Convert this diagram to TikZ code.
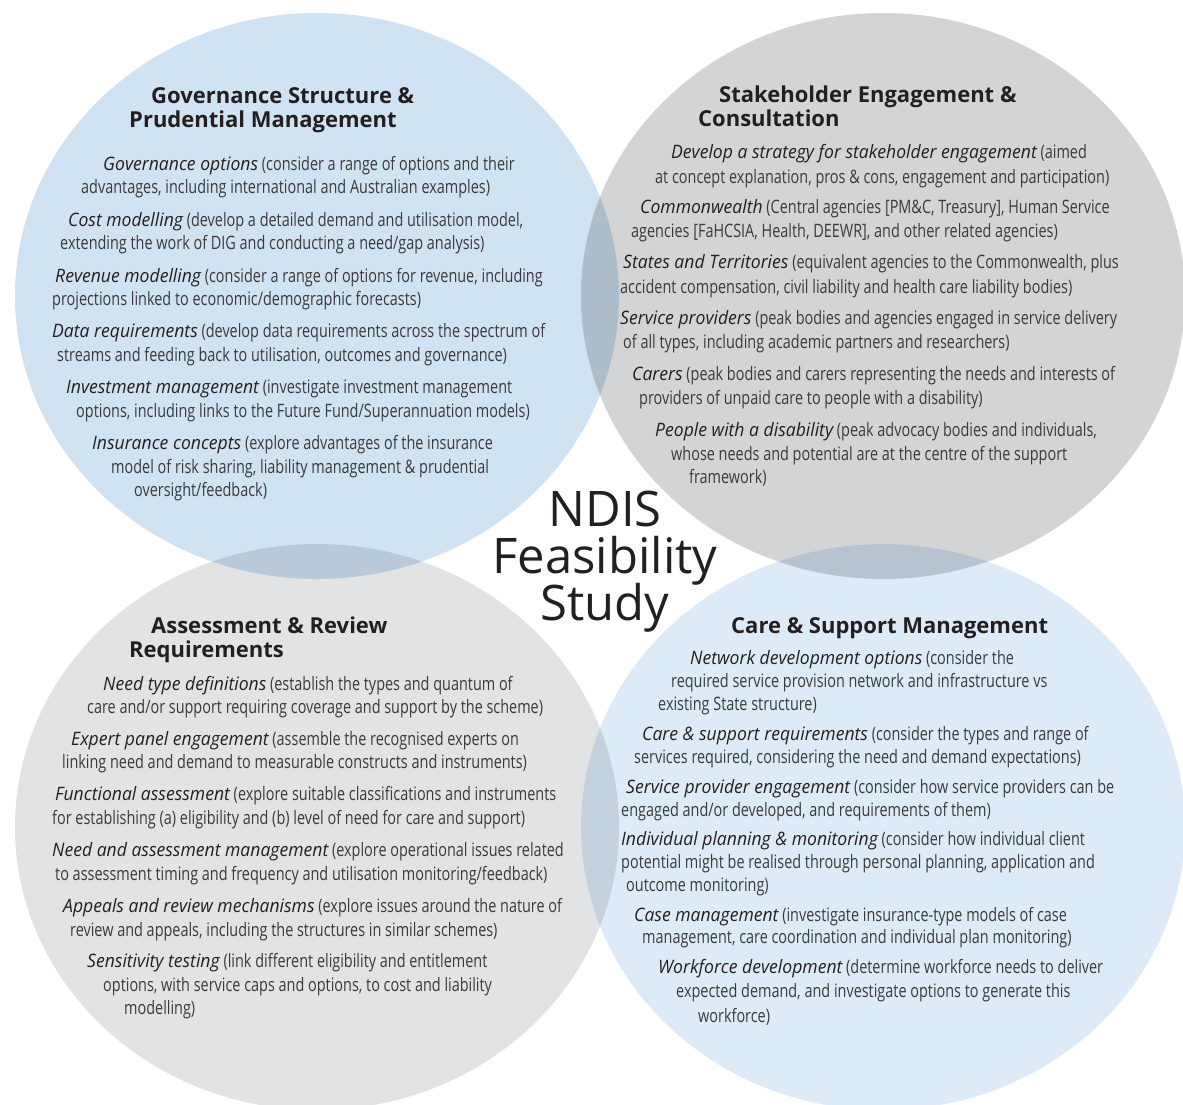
\documentclass[tikz,border=0pt]{standalone}
\usepackage{fontspec}
\usepackage{xcolor}
\usepackage{tikz}
\setmainfont{Open Sans}
\newfontfamily\bodyfont[FakeStretch=0.78]{Open Sans}
\newfontfamily\termfont[FakeStretch=0.95]{Open Sans}
\newfontfamily\headfont{Open Sans}
\definecolor{cInk}{HTML}{231F20}
\definecolor{cText}{HTML}{3A3A3C}
\definecolor{cBlueA}{HTML}{D0E3F3}
\definecolor{cGrayA}{HTML}{D3D4D6}
\definecolor{cGrayB}{HTML}{E2E3E5}
\definecolor{cBlueB}{HTML}{DDEBF8}
% overlaps, multiplied by hand
\definecolor{cLensTop}{HTML}{ACBDCC}
\definecolor{cLensLeft}{HTML}{B8CADA}
\definecolor{cLensRight}{HTML}{B7C3D0}
\definecolor{cLensBot}{HTML}{C4D1DF}
\tikzset{
  blob/.style={x radius=302pt,y radius=283pt},
  txt/.style={anchor=base west,inner sep=0pt,text=cText,font=\bodyfont\fontsize{18.5}{22}\selectfont},
  hd/.style={anchor=base west,inner sep=0pt,text=cInk,font=\headfont\bfseries\fontsize{22}{24}\selectfont},
  ttl/.style={anchor=base,inner sep=0pt,text=cInk,font=\fontsize{49}{47}\selectfont},
}
\newcommand{\trm}[1]{{\termfont\itshape\color{cInk}#1}}

\begin{document}
\begin{tikzpicture}[x=1pt,y=-1pt]
  \useasboundingbox (0,0) rectangle (1183,1104);
  \fill[white] (0,0) rectangle (1183,1104);
  \clip (0,0) rectangle (1183,1104);

  \coordinate (gov) at (317,296);
  \coordinate (stk) at (883,296);
  \coordinate (asr) at (317,827);
  \coordinate (csm) at (883,827);

  \fill[cBlueA] (gov) ellipse [blob];
  \fill[cGrayA] (stk) ellipse [blob];
  \fill[cGrayB] (asr) ellipse [blob];
  \fill[cBlueB] (csm) ellipse [blob];
  \begin{scope}
    \clip (gov) ellipse [blob];
    \fill[cLensTop] (stk) ellipse [blob];
    \fill[cLensLeft] (asr) ellipse [blob];
  \end{scope}
  \begin{scope}
    \clip (csm) ellipse [blob];
    \fill[cLensRight] (stk) ellipse [blob];
    \fill[cLensBot] (asr) ellipse [blob];
  \end{scope}

  % centre title
  \node[ttl] (t1) at (605,526) {NDIS};
  \node[ttl] (t2) at (605,573) {Feasibility};
  \node[ttl] (t3) at (605,620) {Study};

  % governance
  \node[hd] (govh1) at (151,103) {Governance Structure \&};
  \node[hd] (govh2) at (129,127) {Prudential Management};
  \node[txt] (gov1) at (103,170) {\trm{Governance options} (consider a range of options and their};
  \node[txt] (gov2) at (81,193) {advantages, including international and Australian examples)};
  \node[txt] (gov3) at (68,226) {\trm{Cost modelling} (develop a detailed demand and utilisation model,};
  \node[txt] (gov4) at (60,249) {extending the work of DIG and conducting a need/gap analysis)};
  \node[txt] (gov5) at (55,282) {\trm{Revenue modelling} (consider a range of options for revenue, including};
  \node[txt] (gov6) at (52,305) {projections linked to economic/demographic forecasts)};
  \node[txt] (gov7) at (52,337) {\trm{Data requirements} (develop data requirements across the spectrum of};
  \node[txt] (gov8) at (57,361) {streams and feeding back to utilisation, outcomes and governance)};
  \node[txt] (gov9) at (66,393) {\trm{Investment management} (investigate investment management};
  \node[txt] (gov10) at (76,417) {options, including links to the Future Fund/Superannuation models)};
  \node[txt] (gov11) at (92,449) {\trm{Insurance concepts} (explore advantages of the insurance};
  \node[txt] (gov12) at (111,473) {model of risk sharing, liability management \& prudential};
  \node[txt] (gov13) at (134,496) {oversight/feedback)};

  % stakeholders
  \node[hd] (stkh1) at (719,102) {Stakeholder Engagement \&};
  \node[hd] (stkh2) at (698,126) {Consultation};
  \node[txt] (stk1) at (671,158) {\trm{Develop a strategy for stakeholder engagement} (aimed};
  \node[txt] (stk2) at (655,183) {at concept explanation, pros \& cons, engagement and participation)};
  \node[txt] (stk3) at (640,213) {\trm{Commonwealth} (Central agencies [PM\&C, Treasury], Human Service};
  \node[txt] (stk4) at (631,237) {agencies [FaHCSIA, Health, DEEWR], and other related agencies)};
  \node[txt] (stk5) at (623,268) {\trm{States and Territories} (equivalent agencies to the Commonwealth, plus};
  \node[txt] (stk6) at (620,293) {accident compensation, civil liability and health care liability bodies)};
  \node[txt] (stk7) at (620,324) {\trm{Service providers} (peak bodies and agencies engaged in service delivery};
  \node[txt] (stk8) at (623,348) {of all types, including academic partners and researchers)};
  \node[txt] (stk9) at (632,380) {\trm{Carers} (peak bodies and carers representing the needs and interests of};
  \node[txt] (stk10) at (639,404) {providers of unpaid care to people with a disability)};
  \node[txt] (stk11) at (655,436) {\trm{People with a disability} (peak advocacy bodies and individuals,};
  \node[txt] (stk12) at (671,460) {whose needs and potential are at the centre of the support};
  \node[txt] (stk13) at (689,483) {framework)};

  % assessment
  \node[hd] (asrh1) at (151,633) {Assessment \& Review};
  \node[hd] (asrh2) at (129,657) {Requirements};
  \node[txt] (asr1) at (103,690) {\trm{Need type definitions} (establish the types and quantum of};
  \node[txt] (asr2) at (87,713) {care and/or support requiring coverage and support by the scheme)};
  \node[txt] (asr3) at (71,745) {\trm{Expert panel engagement} (assemble the recognised experts on};
  \node[txt] (asr4) at (62,768) {linking need and demand to measurable constructs and instruments)};
  \node[txt] (asr5) at (55,800) {\trm{Functional assessment} (explore suitable classifications and instruments};
  \node[txt] (asr6) at (52,824) {for establishing (a) eligibility and (b) level of need for care and support)};
  \node[txt] (asr7) at (52,856) {\trm{Need and assessment management} (explore operational issues related};
  \node[txt] (asr8) at (55,880) {to assessment timing and frequency and utilisation monitoring/feedback)};
  \node[txt] (asr9) at (63,912) {\trm{Appeals and review mechanisms} (explore issues around the nature of};
  \node[txt] (asr10) at (70,936) {review and appeals, including the structures in similar schemes)};
  \node[txt] (asr11) at (87,967) {\trm{Sensitivity testing} (link different eligibility and entitlement};
  \node[txt] (asr12) at (103,991) {options, with service caps and options, to cost and liability};
  \node[txt] (asr13) at (124,1014) {modelling)};

  % care and support
  \node[hd] (csmh1) at (731,633) {Care \& Support Management};
  \node[txt] (csm1) at (690,664) {\trm{Network development options} (consider the};
  \node[txt] (csm2) at (671,687) {required service provision network and infrastructure vs};
  \node[txt] (csm3) at (658,710) {existing State structure)};
  \node[txt] (csm4) at (642,740) {\trm{Care \& support requirements} (consider the types and range of};
  \node[txt] (csm5) at (634,763) {services required, considering the need and demand expectations)};
  \node[txt] (csm6) at (626,793) {\trm{Service provider engagement} (consider how service providers can be};
  \node[txt] (csm7) at (621,816) {engaged and/or developed, and requirements of them)};
  \node[txt] (csm8) at (621,845) {\trm{Individual planning \& monitoring} (consider how individual client};
  \node[txt] (csm9) at (621,868) {potential might be realised through personal planning, application and};
  \node[txt] (csm10) at (626,891) {outcome monitoring)};
  \node[txt] (csm11) at (634,921) {\trm{Case management} (investigate insurance-type models of case};
  \node[txt] (csm12) at (642,943) {management, care coordination and individual plan monitoring)};
  \node[txt] (csm13) at (658,973) {\trm{Workforce development} (determine workforce needs to deliver};
  \node[txt] (csm14) at (676,997) {expected demand, and investigate options to generate this};
  \node[txt] (csm15) at (698,1022) {workforce)};
\end{tikzpicture}
\end{document}
